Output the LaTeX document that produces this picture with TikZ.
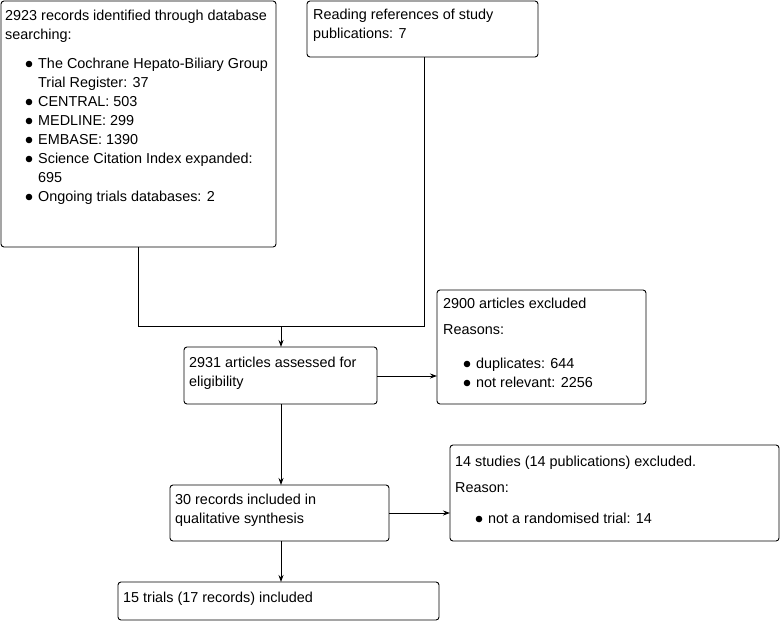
\documentclass[tikz,border=0pt]{standalone}
\usepackage{fontspec}
\setmainfont{Liberation Sans}
\usetikzlibrary{arrows.meta}
\begin{document}
\begin{tikzpicture}[x=1pt,y=-1pt,
  box/.style={draw,line width=0.9pt,rounded corners=3pt},
  txt/.style={anchor=base west,inner sep=0pt,font=\fontsize{14.4}{16}\selectfont},
  conn/.style={line width=0.9pt},
  arr/.style={line width=0.9pt,-{Stealth[length=7pt,width=5pt]}},
  bul/.style={fill=black}]
\useasboundingbox (0,0) rectangle (781,621);
% boxes
\draw[box] (1,1) rectangle (276,247);
\draw[box] (307,1) rectangle (538,57);
\draw[box] (184,347) rectangle (377,404);
\draw[box] (437,290) rectangle (646,404);
\draw[box] (170,485) rectangle (389,541);
\draw[box] (450,445) rectangle (779,541);
\draw[box] (118,582) rectangle (439,620);
% connector points
\coordinate (Abot) at (138,247);
\coordinate (Bbot) at (424,57);
\coordinate (J1) at (138,326);
\coordinate (J2) at (424,326);
\coordinate (J) at (281,326);
\coordinate (Ctop) at (281,347);
\coordinate (Cright) at (377,376);
\coordinate (Cbot) at (281,404);
\coordinate (Dleft) at (437,376);
\coordinate (Etop) at (281,485);
\coordinate (Eright) at (389,513);
\coordinate (Ebot) at (281,541);
\coordinate (Fleft) at (450,513);
\coordinate (Gtop) at (281,582);
% connectors
\draw[conn] (Abot) -- (J1) -- (J2) -- (Bbot);
\draw[arr] (J) -- (Ctop);
\draw[arr] (Cright) -- (Dleft);
\draw[arr] (Cbot) -- (Etop);
\draw[arr] (Eright) -- (Fleft);
\draw[arr] (Ebot) -- (Gtop);
% box A text
\node[txt] (a1) at (5,20) {2923 records identified through database};
\node[txt] (a2) at (5,39) {searching:};
\foreach \y/\t in {68/The Cochrane Hepato-Biliary Group,87/Trial Register: 37,106/CENTRAL: 503,125/MEDLINE: 299,144/EMBASE: 1390,163/Science Citation Index expanded:,182/695,201/Ongoing trials databases: 2}{
  \node[txt] at (38,\y) {\t};
}
\foreach \y in {64,102,121,140,159,197}{\fill[bul] (29,\y) circle (3.3pt);}
% box B
\node[txt] (b1) at (313,19) {Reading references of study};
\node[txt] (b2) at (313,38) {publications: 7};
% box C
\node[txt] (c1) at (189,367) {2931 articles assessed for};
\node[txt] (c2) at (189,386) {eligibility};
% box D
\node[txt] (d1) at (443,308) {2900 articles excluded};
\node[txt] (d2) at (443,334) {Reasons:};
\node[txt] (d3) at (476,368) {duplicates: 644};
\node[txt] (d4) at (476,387) {not relevant: 2256};
\fill[bul] (467,364) circle (3.3pt);
\fill[bul] (467,383) circle (3.3pt);
% box E
\node[txt] (e1) at (175,504) {30 records included in};
\node[txt] (e2) at (175,523) {qualitative synthesis};
% box F
\node[txt] (f1) at (455,466) {14 studies (14 publications) excluded.};
\node[txt] (f2) at (455,492) {Reason:};
\node[txt] (f3) at (488,523) {not a randomised trial: 14};
\fill[bul] (479,519) circle (3.3pt);
% box G
\node[txt] (g1) at (123,602) {15 trials (17 records) included};
\end{tikzpicture}
\end{document}
